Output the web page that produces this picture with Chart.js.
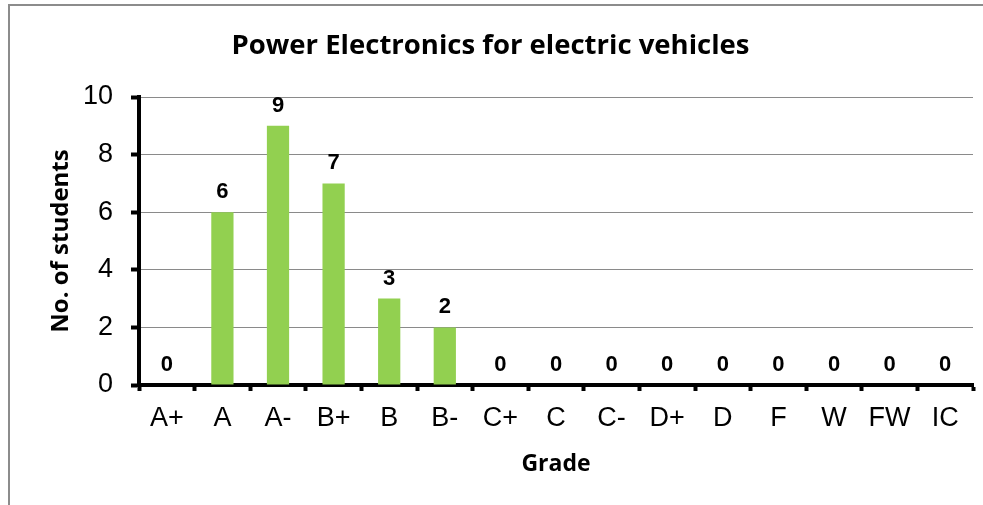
<!DOCTYPE html>
<html>
<head>
<meta charset="utf-8">
<script src="https://cdn.jsdelivr.net/npm/chart.js@4"></script>
<style>
  html, body { margin: 0; padding: 0; background: #fff; }
  #wrap { position: relative; width: 983px; height: 505px; overflow: hidden; }
  #frame { position: absolute; left: 8px; top: 4px; width: 1000px; height: 600px;
           border-top: 2px solid #8c8c8c; border-left: 2px solid #8c8c8c; }
  canvas { position: absolute; left: 0; top: 0; }
</style>
</head>
<body>
<div id="wrap">
  <div id="frame"></div>
  <canvas id="chart" width="983" height="505"></canvas>
</div>
<script>
// grades and how many students got each
const grades = ["A+", "A", "A-", "B+", "B", "B-", "C+", "C", "C-", "D+", "D", "F", "W", "FW", "IC"];
const students = [0, 6, 9, 7, 3, 2, 0, 0, 0, 0, 0, 0, 0, 0, 0];
const yTicks = [0, 2, 4, 6, 8, 10];

// numbers above each bar
const barLabels = {
  id: "barLabels",
  afterDatasetsDraw(chart) {
    const ctx = chart.ctx;
    const meta = chart.getDatasetMeta(0);
    ctx.save();
    ctx.font = "bold 22px 'Liberation Sans', Arial, sans-serif";
    ctx.fillStyle = "#000";
    ctx.textAlign = "center";
    ctx.textBaseline = "bottom";
    meta.data.forEach((bar, i) => {
      ctx.fillText(String(students[i]), bar.x, bar.y - 9);
    });
    ctx.restore();
  },
};

new Chart(document.getElementById("chart"), {
  type: "bar",
  data: {
    labels: grades,
    datasets: [
      {
        data: students,
        backgroundColor: "#92d050",
        barPercentage: 0.4,
        categoryPercentage: 1,
      },
    ],
  },
  options: {
    responsive: false,
    animation: false,
    layout: { padding: { left: 8, right: 10, top: 0, bottom: 20 } },
    plugins: {
      legend: { display: false },
      tooltip: { enabled: false },
      title: {
        display: true,
        text: "Power Electronics for electric vehicles",
        color: "#000",
        font: { family: "'Open Sans', sans-serif", size: 27.5, weight: "bold" },
        padding: { top: 30, bottom: 34 },
      },
    },
    scales: {
      x: {
        afterFit: (s) => { s.height = 100; },
        border: { color: "#000", width: 4 },
        grid: {
          drawOnChartArea: false,
          drawTicks: true,
          tickLength: 6,
          tickColor: "#000",
          tickWidth: 4,
        },
        ticks: {
          color: "#000",
          font: { family: "'Liberation Sans', Arial, sans-serif", size: 27 },
          padding: 11,
          maxRotation: 0,
          autoSkip: false,
        },
        title: {
          display: true,
          text: "Grade",
          color: "#000",
          font: { family: "'Open Sans', sans-serif", size: 23, weight: "bold" },
          padding: { top: 0, bottom: 7 },
        },
      },
      y: {
        min: 0,
        max: 10,
        afterFit: (s) => { s.width = 131; },
        afterBuildTicks: (s) => { s.ticks = yTicks.map((v) => ({ value: v })); },
        border: { color: "#000", width: 4 },
        grid: {
          color: "#8a8a8a",
          lineWidth: 1,
          tickLength: 8,
          tickColor: "#000",
          tickWidth: 4,
        },
        ticks: {
          color: "#000",
          font: { family: "'Liberation Sans', Arial, sans-serif", size: 27 },
          padding: 18,
        },
        title: {
          display: true,
          text: "No. of students",
          color: "#000",
          font: { family: "'Open Sans', sans-serif", size: 24, weight: "bold" },
          padding: { top: 39, bottom: 0 },
        },
      },
    },
  },
  plugins: [barLabels],
});
</script>
</body>
</html>
